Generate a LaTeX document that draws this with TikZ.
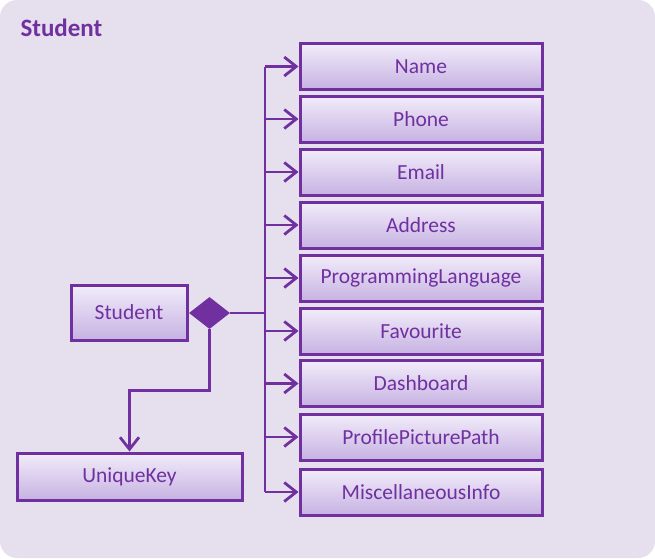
\documentclass[tikz,border=0pt]{standalone}
\usepackage{fontspec}
\setmainfont{Carlito}
\usepackage{tikz}
\usetikzlibrary{shapes.geometric, arrows.meta}
\usepackage{xcolor}
\definecolor{umlpurple}{HTML}{7030A0}
\definecolor{umlback}{HTML}{E6E0EE}
\definecolor{umltop}{HTML}{F2ECFA}
\definecolor{umlbottom}{HTML}{C6B2E2}

\begin{document}
\begin{tikzpicture}[x=1pt, y=-1pt,
    classbox/.style={draw=umlpurple, line width=3pt, top color=umltop, bottom color=umlbottom,
        text=umlpurple, inner sep=0pt, font=\fontsize{21.5}{24}\selectfont},
    attrbox/.style={classbox, minimum width=242pt, minimum height=46pt},
    link/.style={draw=umlpurple, line width=2.8pt},
    arrow/.style={link, -{Straight Barb[length=12pt, width=19pt, line width=2.8pt]}}]
    \fill[white] (0,0) rectangle (655,558);
    \fill[umlback, rounded corners=17pt] (0,0) rectangle (655,558);
    \node[anchor=west, text=umlpurple, font=\fontsize{25}{28}\selectfont\bfseries] (title) at (17,28) {Student};
    \node[classbox, minimum width=116pt, minimum height=55pt] (student) at (129,312.5) {Student};
    \node[diamond, fill=umlpurple, inner sep=0pt, minimum width=41pt, minimum height=32pt] (agg) at (209.5,313) {};
    \node[classbox, minimum width=225pt, minimum height=47pt] (key) at (129.5,476.5) {UniqueKey};
    \node[attrbox] (name) at (421,66.5) {Name};
    \node[attrbox] (phone) at (421,119) {Phone};
    \node[attrbox] (email) at (421,172) {Email};
    \node[attrbox] (address) at (421,225) {Address};
    \node[attrbox] (lang) at (421,278) {ProgrammingLanguage};
    \node[attrbox] (fav) at (421,331) {Favourite};
    \node[attrbox] (dash) at (421,383.5) {Dashboard};
    \node[attrbox] (pic) at (421,437) {ProfilePicturePath};
    \node[attrbox] (misc) at (421,492) {MiscellaneousInfo};
    \coordinate (trunk) at (265,313);
    \draw[link] (agg.east) -- (trunk);
    \draw[link] (trunk |- name.west) -- (trunk |- misc.west);
    \foreach \b in {name, phone, email, address, lang, fav, dash, pic, misc}
        \draw[arrow] (trunk |- \b.west) -- (\b.west);
    \draw[arrow] (agg.south) -- ++(0,61) -| (key.north);
\end{tikzpicture}
\end{document}
